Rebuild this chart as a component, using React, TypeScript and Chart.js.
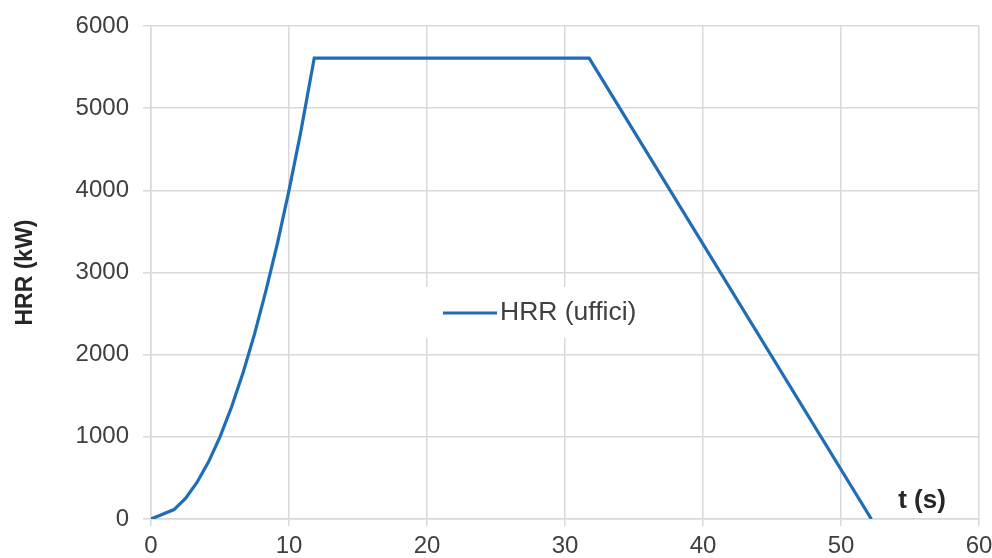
import React, { useEffect, useRef } from "react";
import { Chart, registerables } from "chart.js";

Chart.register(...registerables);

// Data
const timeSeconds = [0, 1.67, 2.5, 3.33, 4.17, 5, 5.83, 6.67, 7.5, 8.33, 9.17, 10, 10.83, 11.83, 31.75, 52.2];
const hrrValues = [0, 115, 250, 445, 695, 1000, 1360, 1780, 2250, 2780, 3360, 4000, 4690, 5610, 5610, 0];
const seriesLabel = "HRR (uffici)";
const yAxisTitle = "HRR (kW)";
const xAxisTitle = "t (s)";
const xTicks = [0, 10, 20, 30, 40, 50, 60];
const yTicks = [0, 1000, 2000, 3000, 4000, 5000, 6000];

const LINE_COLOR = "#1f6db6";
const GRID_COLOR = "#d9d9d9";
const TEXT_COLOR = "#404040";
const TITLE_COLOR = "#262626";
const FONT = "'Liberation Sans', Arial, sans-serif";

const overlayPlugin = {
  id: "overlay",
  afterDatasetsDraw(chart: any) {
    const { ctx, chartArea } = chart;
    const ds = chart.data.datasets[0];
    ctx.save();
    // legend box
    const bx = chartArea.left + 266;
    const by = chartArea.top + 261;
    ctx.fillStyle = "#ffffff";
    ctx.fillRect(bx, by, 250, 51);
    const ly = chartArea.top + 287;
    ctx.strokeStyle = ds.borderColor;
    ctx.lineWidth = 3;
    ctx.beginPath();
    ctx.moveTo(chartArea.left + 292, ly);
    ctx.lineTo(chartArea.left + 346, ly);
    ctx.stroke();
    ctx.fillStyle = TEXT_COLOR;
    ctx.font = `26.5px ${FONT}`;
    ctx.textBaseline = "middle";
    ctx.textAlign = "left";
    ctx.fillText(ds.label, chartArea.left + 349, ly);
    // x axis title inside plot
    ctx.font = `bold 26px ${FONT}`;
    ctx.fillStyle = TITLE_COLOR;
    ctx.textAlign = "center";
    ctx.fillText(xAxisTitle, chartArea.right - 57, chartArea.bottom - 18);
    ctx.restore();
  },
};

export default function App() {
  const ref = useRef<HTMLCanvasElement | null>(null);
  useEffect(() => {
    if (!ref.current) return;
    const chart = new Chart(ref.current, {
      type: "line",
      data: {
        datasets: [
          {
            label: seriesLabel,
            data: timeSeconds.map((t, i) => ({ x: t, y: hrrValues[i] })),
            borderColor: LINE_COLOR,
            backgroundColor: LINE_COLOR,
            borderWidth: 3.2,
            pointRadius: 0,
            tension: 0,
            fill: false,
          },
        ],
      },
      options: {
        animation: false,
        responsive: false,
        maintainAspectRatio: false,
        layout: { padding: { top: 26, right: 13, left: 0, bottom: 0 } },
        plugins: {
          legend: { display: false },
          tooltip: { enabled: false },
        },
        scales: {
          x: {
            type: "linear",
            min: 0,
            max: 60,
            afterBuildTicks: (scale: any) => {
              scale.ticks = xTicks.map((v) => ({ value: v }));
            },
            afterFit: (scale: any) => {
              scale.height = 39;
              scale.paddingRight = 0;
              scale.paddingLeft = 0;
            },
            grid: { color: GRID_COLOR, lineWidth: 1.5, tickLength: 7, drawTicks: true },
            border: { display: true, color: GRID_COLOR, width: 1.5 },
            ticks: {
              color: TEXT_COLOR,
              font: { family: FONT, size: 24 },
              padding: 6,
              maxRotation: 0,
            },
          },
          y: {
            type: "linear",
            min: 0,
            max: 6000,
            afterBuildTicks: (scale: any) => {
              scale.ticks = yTicks.map((v) => ({ value: v }));
            },
            afterFit: (scale: any) => {
              scale.width = 151;
              scale.paddingTop = 0;
              scale.paddingBottom = 0;
            },
            grid: { color: GRID_COLOR, lineWidth: 1.5, tickLength: 8, drawTicks: true },
            border: { display: true, color: GRID_COLOR, width: 1.5 },
            ticks: {
              color: TEXT_COLOR,
              font: { family: FONT, size: 24 },
              padding: 14,
              callback: (v: any) => String(v),
            },
            title: {
              display: true,
              text: yAxisTitle,
              color: TITLE_COLOR,
              font: { family: FONT, size: 23, weight: "bold" },
              padding: { top: 12, bottom: 0 },
            },
          },
        },
      },
      plugins: [overlayPlugin],
    });
    return () => chart.destroy();
  }, []);
  return (
    <div style={{ position: "fixed", left: 0, top: 0, width: 992, height: 558, background: "#fff" }}>
      <canvas ref={ref} width={992} height={558} style={{ width: 992, height: 558, display: "block" }} />
    </div>
  );
}
